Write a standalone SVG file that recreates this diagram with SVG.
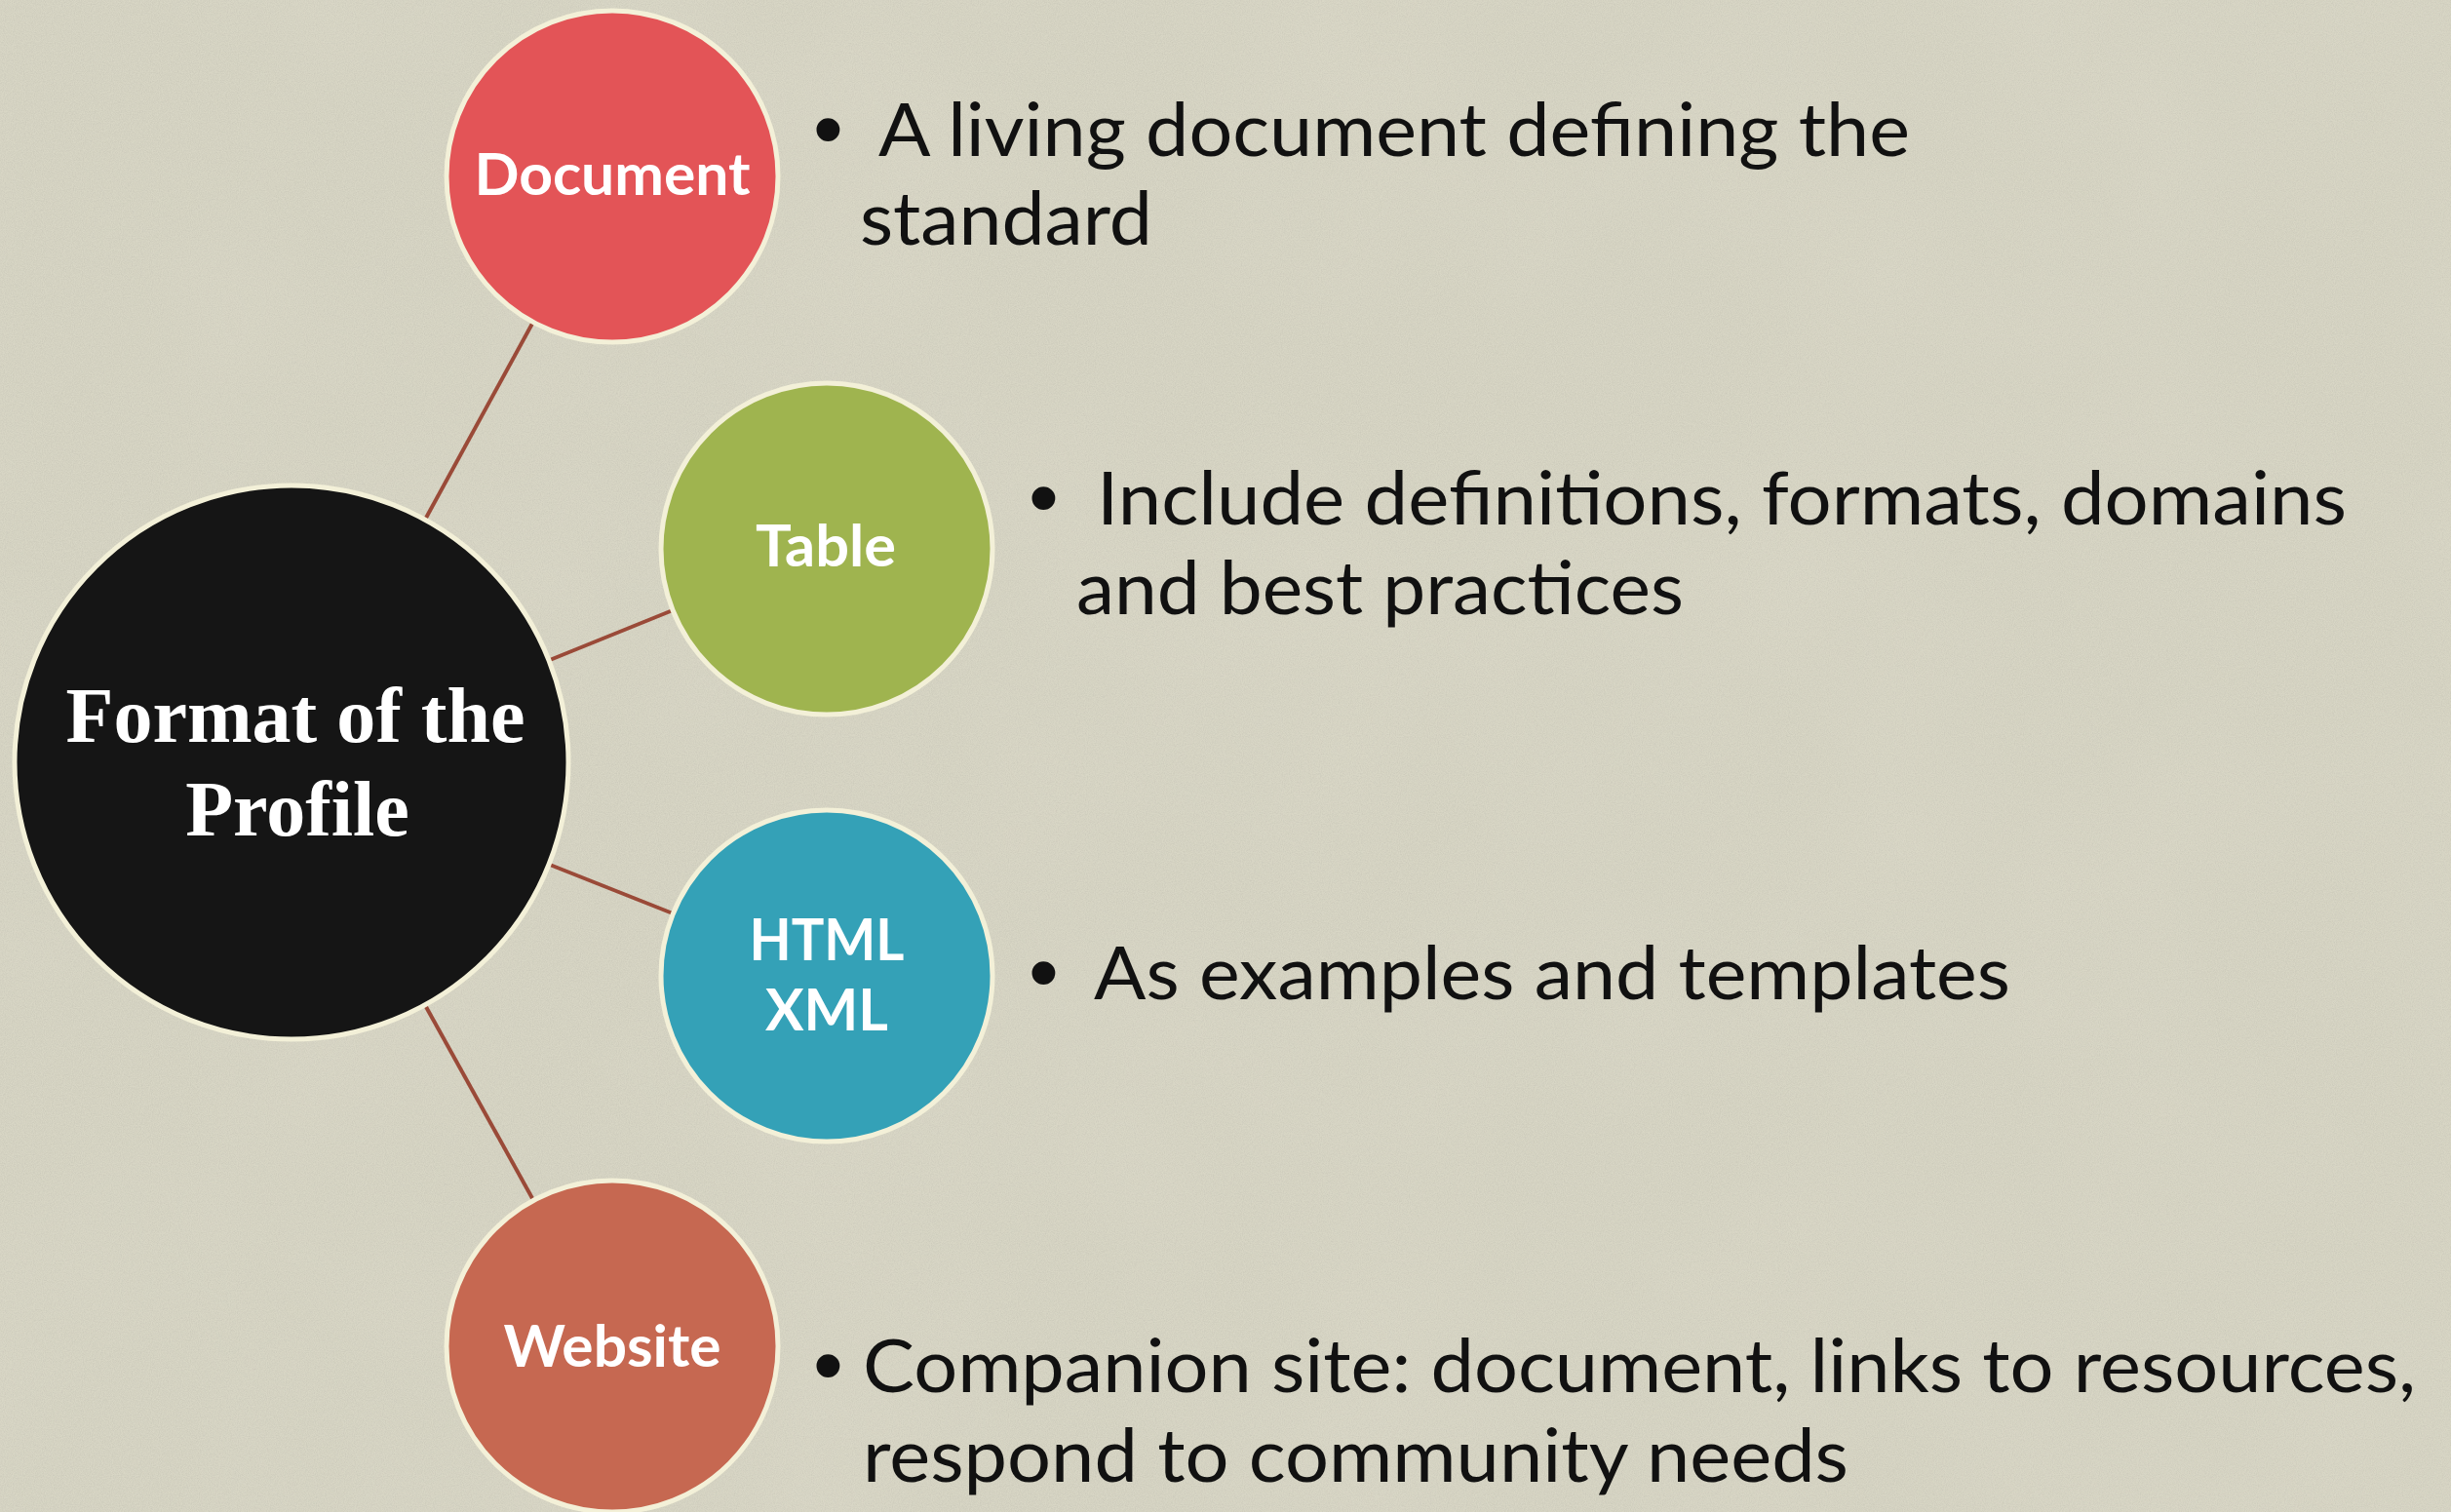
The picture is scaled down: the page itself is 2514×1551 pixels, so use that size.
<svg xmlns="http://www.w3.org/2000/svg" width="2514" height="1551" viewBox="0 0 2514 1551">
  <defs>
    <filter id="paper" x="0" y="0" width="100%" height="100%">
      <feTurbulence type="fractalNoise" baseFrequency="0.9" numOctaves="3" seed="4" result="n"/>
      <feColorMatrix type="matrix" values="0 0 0 0 0.45  0 0 0 0 0.44  0 0 0 0 0.38  0 0 0 1.1 -0.35" result="c"/>
      <feComposite in="c" in2="SourceGraphic" operator="atop"/>
    </filter>
    <filter id="blotch" x="0" y="0" width="100%" height="100%">
      <feTurbulence type="fractalNoise" baseFrequency="0.004" numOctaves="3" seed="9" result="n"/>
      <feColorMatrix type="matrix" values="0 0 0 0 0.92  0 0 0 0 0.88  0 0 0 0 0.78  0 0 0 0.6 -0.2"/>
    </filter>
  </defs>
  <style>
    .node circle { stroke: #f3f0d8; stroke-width: 5; }
    .lbl { font-family: Lato, "Open Sans", "Liberation Sans", sans-serif; font-weight: bold; font-size: 59px; fill: #ffffff; text-anchor: middle; }
    .title { font-family: "Liberation Serif", "Times New Roman", serif; font-weight: bold; font-size: 80px; fill: #ffffff; text-anchor: middle; }
    .body { font-family: Lato, "Open Sans", "Liberation Sans", sans-serif; font-size: 75px; fill: #111111; }
    .bul { font-family: "Liberation Sans", Arial, sans-serif; font-size: 88px; fill: #111111; }
    .conn line { stroke: #9a4a38; stroke-width: 4; }
  </style>

  <rect x="0" y="0" width="2514" height="1551" fill="#d8d6c5"/>
  <rect x="0" y="0" width="2514" height="1551" fill="#d8d6c5" filter="url(#blotch)" opacity="0.5"/>
  <rect x="0" y="0" width="2514" height="1551" fill="#d8d6c5" filter="url(#paper)" opacity="0.5"/>

  <g id="connectors" class="conn">
    <line x1="436" y1="533" x2="547" y2="330"/>
    <line x1="564" y1="677" x2="690" y2="626"/>
    <line x1="564" y1="887" x2="690" y2="937"/>
    <line x1="436" y1="1031" x2="547" y2="1231"/>
  </g>

  <g id="node-center" class="node">
    <circle cx="299" cy="782" r="284" fill="#151515"/>
    <text class="title" x="303" y="761">Format of the</text>
    <text class="title" x="305" y="857">Profile</text>
  </g>

  <g id="node-document" class="node">
    <circle cx="628" cy="181" r="170" fill="#e35457"/>
    <text class="lbl" x="628" y="200" textLength="283" lengthAdjust="spacingAndGlyphs">Document</text>
  </g>

  <g id="node-table" class="node">
    <circle cx="848" cy="563" r="170" fill="#9fb44f"/>
    <text class="lbl" x="847" y="581" textLength="144" lengthAdjust="spacingAndGlyphs">Table</text>
  </g>

  <g id="node-htmlxml" class="node">
    <circle cx="848" cy="1001" r="170" fill="#34a1b7"/>
    <text class="lbl" x="848" y="985" textLength="159" lengthAdjust="spacingAndGlyphs">HTML</text>
    <text class="lbl" x="848" y="1057">XML</text>
  </g>

  <g id="node-website" class="node">
    <circle cx="628" cy="1381" r="170" fill="#c66851"/>
    <text class="lbl" x="628" y="1402" textLength="223" lengthAdjust="spacingAndGlyphs">Website</text>
  </g>

  <g id="text-document">
    <text class="bul" x="834" y="162">•</text>
    <text class="body" x="901" y="160" textLength="1058" lengthAdjust="spacingAndGlyphs">A living document defining the</text>
    <text class="body" x="882" y="251" textLength="300" lengthAdjust="spacingAndGlyphs">standard</text>
  </g>

  <g id="text-table">
    <text class="bul" x="1055" y="540">•</text>
    <text class="body" x="1125" y="538" textLength="1282" lengthAdjust="spacingAndGlyphs">Include definitions, formats, domains</text>
    <text class="body" x="1104" y="630" textLength="623" lengthAdjust="spacingAndGlyphs">and best practices</text>
  </g>

  <g id="text-htmlxml">
    <text class="bul" x="1055" y="1027">•</text>
    <text class="body" x="1122" y="1025" textLength="940" lengthAdjust="spacingAndGlyphs">As examples and templates</text>
  </g>

  <g id="text-website">
    <text class="bul" x="834" y="1430">•</text>
    <text class="body" x="885" y="1428" textLength="1593" lengthAdjust="spacingAndGlyphs">Companion site: document, links to resources,</text>
    <text class="body" x="885" y="1520" textLength="1011" lengthAdjust="spacingAndGlyphs">respond to community needs</text>
  </g>
</svg>
